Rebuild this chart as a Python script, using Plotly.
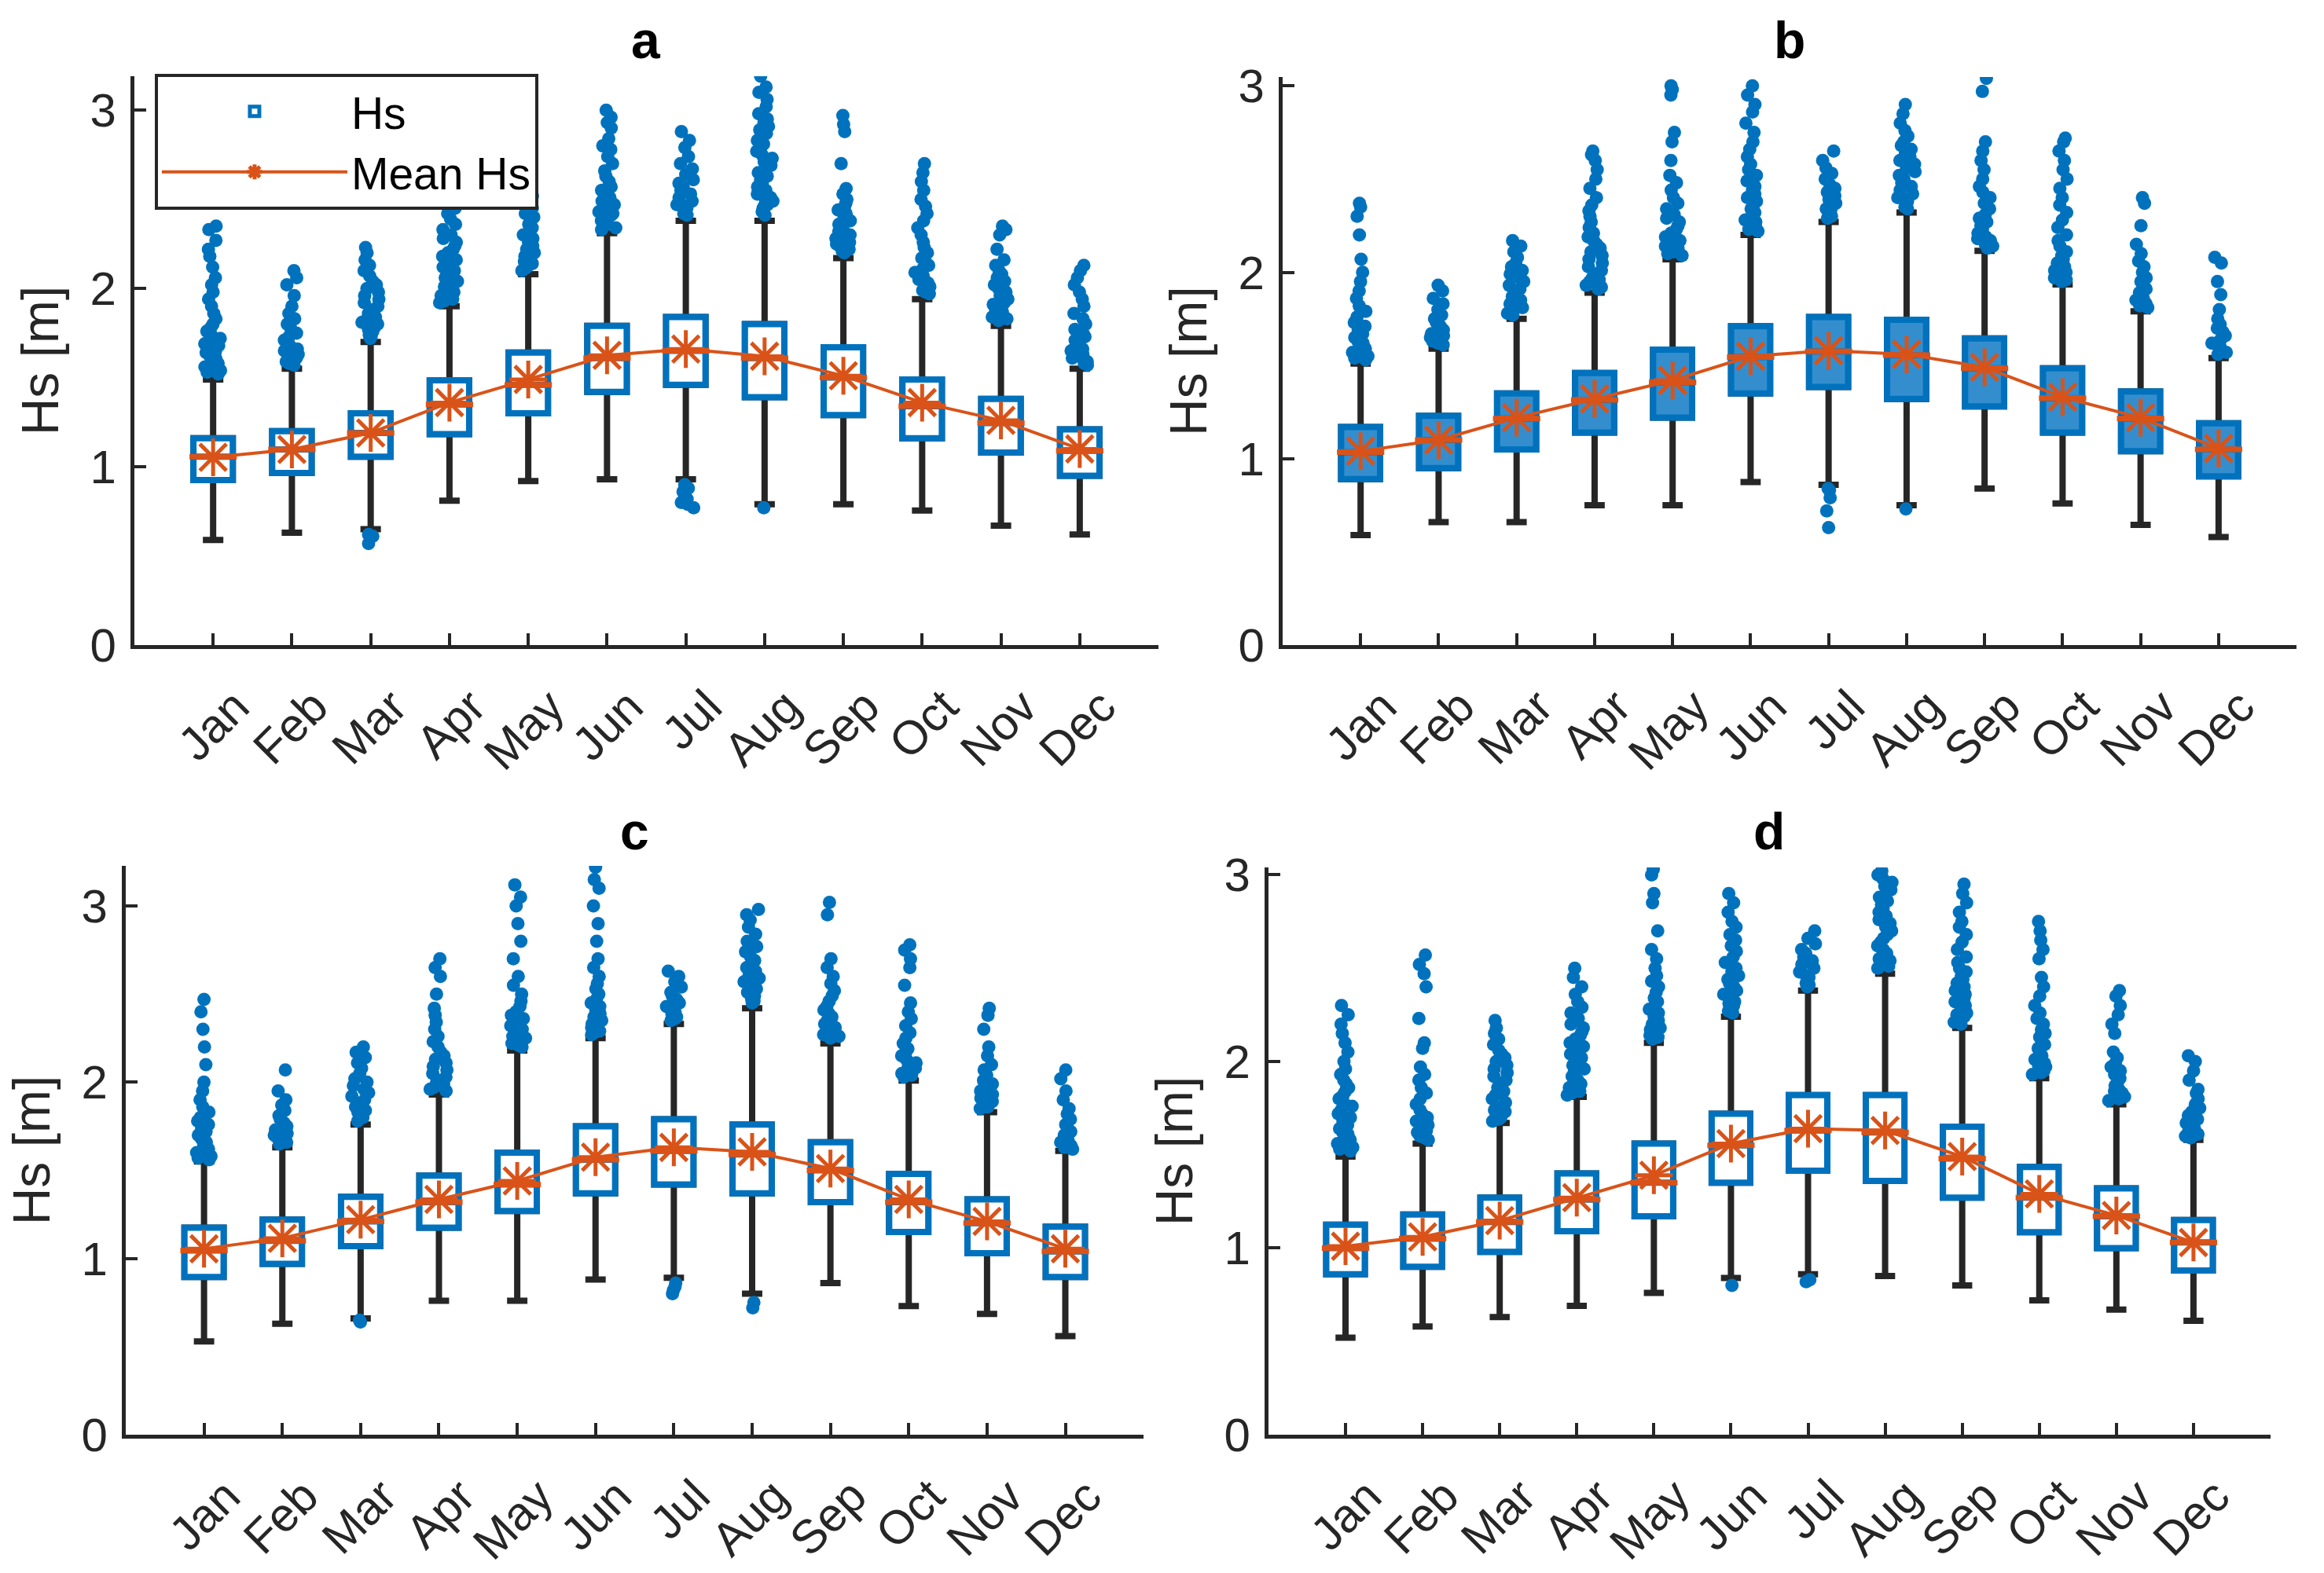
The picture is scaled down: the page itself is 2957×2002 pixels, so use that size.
import plotly.graph_objects as go

MONTHS = ["Jan", "Feb", "Mar", "Apr", "May", "Jun", "Jul", "Aug", "Sep", "Oct", "Nov", "Dec"]
Y_TICKS = [0, 1, 2, 3]
PANEL_TITLES = ["a", "b", "c", "d"]

# ---------------- panel a ----------------
A_Q1 = [0.925, 0.965, 1.057, 1.183, 1.30, 1.42, 1.46, 1.39, 1.29, 1.16, 1.08, 0.95]
A_MED = [1.057, 1.097, 1.19, 1.35, 1.46, 1.61, 1.65, 1.61, 1.50, 1.34, 1.245, 1.09]
A_Q3 = [1.16, 1.20, 1.30, 1.485, 1.64, 1.79, 1.84, 1.80, 1.67, 1.49, 1.38, 1.21]
A_LO = [0.59, 0.63, 0.65, 0.81, 0.92, 0.93, 0.93, 0.79, 0.79, 0.755, 0.67, 0.62]
A_HI = [1.49, 1.55, 1.70, 1.90, 2.08, 2.31, 2.38, 2.38, 2.17, 1.94, 1.79, 1.55]
A_MEAN = [1.053, 1.097, 1.19, 1.36, 1.49, 1.625, 1.66, 1.62, 1.51, 1.36, 1.26, 1.10]
A_OUT = [
    [1.52, 1.53, 1.54, 1.56, 1.57, 1.58, 1.6, 1.61, 1.62, 1.64, 1.65, 1.66, 1.68, 1.69, 1.7, 1.72, 1.74, 1.76, 1.78, 1.8, 1.83, 1.86, 1.9, 1.94, 1.98, 2.02, 2.06, 2.12, 2.18, 2.22, 2.27, 2.33, 2.35],
    [1.57, 1.58, 1.59, 1.61, 1.62, 1.63, 1.65, 1.66, 1.67, 1.69, 1.71, 1.73, 1.75, 1.78, 1.8, 1.83, 1.86, 1.9, 1.96, 2.02, 2.06, 2.1],
    [0.57, 0.61, 0.62, 1.72, 1.73, 1.74, 1.76, 1.77, 1.78, 1.8, 1.81, 1.82, 1.84, 1.86, 1.88, 1.9, 1.92, 1.94, 1.96, 1.98, 2.0, 2.02, 2.04, 2.07, 2.1, 2.13, 2.16, 2.2, 2.23],
    [1.92, 1.93, 1.94, 1.96, 1.97, 1.98, 2.0, 2.01, 2.02, 2.04, 2.06, 2.08, 2.1, 2.12, 2.14, 2.16, 2.18, 2.2, 2.22, 2.24, 2.26, 2.28, 2.3, 2.33, 2.36, 2.39, 2.42, 2.45],
    [2.1, 2.11, 2.12, 2.14, 2.15, 2.16, 2.18, 2.2, 2.22, 2.24, 2.26, 2.28, 2.3, 2.32, 2.34, 2.36, 2.38, 2.4, 2.42, 2.45, 2.48, 2.52],
    [2.33, 2.34, 2.35, 2.37, 2.38, 2.39, 2.41, 2.42, 2.43, 2.45, 2.47, 2.49, 2.51, 2.53, 2.55, 2.57, 2.6, 2.63, 2.66, 2.7, 2.74, 2.78, 2.8, 2.84, 2.9, 2.93, 2.96, 3.0],
    [0.77, 0.79, 0.8, 0.82, 0.84, 0.86, 0.88, 0.9, 2.41, 2.42, 2.43, 2.45, 2.46, 2.47, 2.49, 2.51, 2.53, 2.55, 2.57, 2.59, 2.61, 2.64, 2.67, 2.7, 2.74, 2.79, 2.83, 2.88],
    [0.77, 2.41, 2.42, 2.43, 2.45, 2.46, 2.47, 2.49, 2.5, 2.51, 2.53, 2.55, 2.57, 2.59, 2.61, 2.63, 2.65, 2.67, 2.69, 2.71, 2.73, 2.75, 2.77, 2.79, 2.81, 2.83, 2.85, 2.87, 2.89, 2.91, 2.93, 2.95, 2.98, 3.02, 3.06, 3.1, 3.13, 3.19],
    [2.2, 2.21, 2.22, 2.24, 2.25, 2.26, 2.28, 2.29, 2.3, 2.32, 2.34, 2.36, 2.38, 2.4, 2.42, 2.44, 2.46, 2.48, 2.5, 2.53, 2.56, 2.7, 2.88, 2.92, 2.97],
    [1.97, 1.98, 1.99, 2.01, 2.02, 2.03, 2.05, 2.07, 2.09, 2.11, 2.13, 2.15, 2.17, 2.2, 2.23, 2.26, 2.3, 2.34, 2.38, 2.42, 2.46, 2.5, 2.55, 2.6, 2.65, 2.7],
    [1.82, 1.83, 1.84, 1.86, 1.87, 1.88, 1.9, 1.91, 1.92, 1.94, 1.96, 1.98, 2.0, 2.02, 2.04, 2.06, 2.08, 2.1, 2.13, 2.16, 2.22, 2.3, 2.33, 2.35],
    [1.57, 1.58, 1.59, 1.61, 1.62, 1.63, 1.65, 1.66, 1.67, 1.69, 1.71, 1.73, 1.75, 1.77, 1.8, 1.83, 1.86, 1.9, 1.94, 1.98, 2.02, 2.06, 2.1, 2.13],
]

# ---------------- panel b ----------------
B_Q1 = [0.89, 0.95, 1.05, 1.14, 1.22, 1.35, 1.385, 1.32, 1.28, 1.14, 1.04, 0.905]
B_MED = [1.035, 1.10, 1.215, 1.315, 1.41, 1.545, 1.575, 1.555, 1.485, 1.325, 1.215, 1.05]
B_Q3 = [1.17, 1.23, 1.35, 1.46, 1.585, 1.71, 1.76, 1.745, 1.645, 1.485, 1.36, 1.19]
B_LO = [0.59, 0.66, 0.66, 0.75, 0.75, 0.875, 0.86, 0.75, 0.84, 0.76, 0.645, 0.58]
B_HI = [1.51, 1.59, 1.75, 1.89, 2.07, 2.2, 2.27, 2.32, 2.115, 1.935, 1.79, 1.54]
B_MEAN = [1.04, 1.10, 1.22, 1.32, 1.42, 1.55, 1.58, 1.56, 1.49, 1.33, 1.22, 1.055]
B_OUT = [
    [1.53, 1.54, 1.55, 1.57, 1.58, 1.59, 1.61, 1.62, 1.63, 1.65, 1.67, 1.69, 1.71, 1.73, 1.76, 1.79, 1.82, 1.86, 1.9, 1.95, 2.0, 2.07, 2.2, 2.3, 2.35, 2.37],
    [1.61, 1.62, 1.63, 1.65, 1.66, 1.67, 1.69, 1.71, 1.73, 1.75, 1.77, 1.8, 1.83, 1.86, 1.9, 1.93],
    [1.77, 1.78, 1.79, 1.81, 1.82, 1.83, 1.85, 1.87, 1.89, 1.91, 1.93, 1.95, 1.97, 1.99, 2.01, 2.03, 2.05, 2.08, 2.11, 2.14, 2.17],
    [1.91, 1.92, 1.93, 1.95, 1.96, 1.97, 1.99, 2.01, 2.03, 2.05, 2.07, 2.09, 2.11, 2.13, 2.15, 2.17, 2.19, 2.21, 2.24, 2.27, 2.3, 2.33, 2.36, 2.4, 2.45, 2.5, 2.55, 2.6, 2.63, 2.65],
    [2.09, 2.1, 2.11, 2.13, 2.14, 2.15, 2.17, 2.19, 2.21, 2.23, 2.25, 2.27, 2.29, 2.31, 2.34, 2.37, 2.4, 2.44, 2.48, 2.52, 2.6, 2.7, 2.75, 2.95, 2.98, 3.0],
    [2.22, 2.23, 2.24, 2.26, 2.27, 2.28, 2.3, 2.32, 2.34, 2.36, 2.38, 2.4, 2.42, 2.44, 2.46, 2.49, 2.52, 2.55, 2.58, 2.62, 2.66, 2.7, 2.75, 2.8, 2.86, 2.9, 2.95, 3.0],
    [0.63, 0.72, 0.79, 0.83, 0.84, 2.29, 2.3, 2.31, 2.33, 2.34, 2.35, 2.37, 2.39, 2.41, 2.43, 2.45, 2.47, 2.5, 2.53, 2.56, 2.6, 2.65],
    [0.73, 2.34, 2.35, 2.36, 2.38, 2.39, 2.4, 2.42, 2.44, 2.46, 2.48, 2.5, 2.52, 2.54, 2.56, 2.58, 2.6, 2.62, 2.64, 2.66, 2.68, 2.7, 2.73, 2.76, 2.8, 2.85, 2.9],
    [2.13, 2.14, 2.15, 2.17, 2.18, 2.19, 2.21, 2.23, 2.25, 2.27, 2.29, 2.31, 2.34, 2.37, 2.4, 2.43, 2.46, 2.5, 2.55, 2.6, 2.65, 2.7, 2.97, 3.04],
    [1.95, 1.96, 1.97, 1.99, 2.0, 2.01, 2.03, 2.05, 2.07, 2.09, 2.11, 2.14, 2.17, 2.2, 2.24, 2.28, 2.32, 2.36, 2.4, 2.45, 2.5, 2.55, 2.6, 2.65, 2.7, 2.72],
    [1.81, 1.82, 1.83, 1.85, 1.86, 1.87, 1.89, 1.91, 1.93, 1.95, 1.97, 2.0, 2.03, 2.06, 2.1, 2.15, 2.25, 2.37, 2.4],
    [1.56, 1.57, 1.58, 1.6, 1.61, 1.62, 1.64, 1.66, 1.68, 1.7, 1.72, 1.75, 1.8, 1.88, 1.95, 2.05, 2.08],
]

# ---------------- panel c ----------------
C_Q1 = [0.895, 0.97, 1.07, 1.175, 1.27, 1.37, 1.42, 1.37, 1.32, 1.15, 1.03, 0.895]
C_MED = [1.045, 1.10, 1.21, 1.32, 1.42, 1.56, 1.61, 1.59, 1.50, 1.32, 1.20, 1.04]
C_Q3 = [1.175, 1.22, 1.35, 1.47, 1.60, 1.75, 1.79, 1.76, 1.66, 1.48, 1.335, 1.18]
C_LO = [0.53, 0.63, 0.66, 0.76, 0.76, 0.88, 0.89, 0.80, 0.86, 0.73, 0.685, 0.56]
C_HI = [1.55, 1.63, 1.76, 1.93, 2.18, 2.25, 2.33, 2.42, 2.22, 2.01, 1.83, 1.61]
C_MEAN = [1.055, 1.115, 1.22, 1.335, 1.44, 1.575, 1.63, 1.605, 1.51, 1.335, 1.21, 1.055]
C_OUT = [
    [1.56, 1.57, 1.58, 1.6, 1.61, 1.62, 1.64, 1.66, 1.68, 1.7, 1.72, 1.74, 1.76, 1.78, 1.8, 1.83, 1.86, 1.9, 1.95, 2.0, 2.1, 2.2, 2.3, 2.4, 2.47],
    [1.65, 1.66, 1.67, 1.69, 1.7, 1.71, 1.73, 1.75, 1.77, 1.79, 1.81, 1.84, 1.87, 1.9, 1.95, 2.07],
    [0.64, 0.65, 1.78, 1.79, 1.8, 1.82, 1.83, 1.84, 1.86, 1.88, 1.9, 1.92, 1.94, 1.96, 1.98, 2.0, 2.02, 2.05, 2.08, 2.11, 2.14, 2.17, 2.2],
    [1.95, 1.96, 1.97, 1.99, 2.0, 2.01, 2.03, 2.05, 2.07, 2.09, 2.11, 2.13, 2.15, 2.17, 2.2, 2.23, 2.26, 2.3, 2.34, 2.38, 2.42, 2.5, 2.6, 2.65, 2.7],
    [2.2, 2.21, 2.22, 2.24, 2.25, 2.26, 2.28, 2.3, 2.32, 2.34, 2.36, 2.38, 2.4, 2.43, 2.46, 2.5, 2.55, 2.6, 2.7, 2.8, 2.9, 3.0, 3.05, 3.12],
    [2.27, 2.28, 2.29, 2.31, 2.32, 2.33, 2.35, 2.37, 2.39, 2.41, 2.43, 2.45, 2.47, 2.5, 2.53, 2.56, 2.6, 2.65, 2.7, 2.8, 2.9, 3.0, 3.1, 3.15, 3.22],
    [0.8, 0.82, 0.84, 0.86, 2.35, 2.36, 2.37, 2.39, 2.4, 2.41, 2.43, 2.45, 2.47, 2.49, 2.51, 2.54, 2.57, 2.6, 2.63],
    [0.72, 0.75, 2.45, 2.46, 2.47, 2.49, 2.5, 2.51, 2.53, 2.55, 2.57, 2.59, 2.61, 2.63, 2.65, 2.67, 2.69, 2.71, 2.74, 2.77, 2.8, 2.84, 2.88, 2.92, 2.95, 2.98],
    [2.25, 2.26, 2.27, 2.29, 2.3, 2.31, 2.33, 2.35, 2.37, 2.39, 2.41, 2.43, 2.46, 2.49, 2.52, 2.56, 2.6, 2.65, 2.7, 2.95, 3.02],
    [2.03, 2.04, 2.05, 2.07, 2.08, 2.09, 2.11, 2.13, 2.15, 2.17, 2.19, 2.22, 2.25, 2.28, 2.32, 2.36, 2.4, 2.45, 2.55, 2.65, 2.7, 2.75, 2.78],
    [1.85, 1.86, 1.87, 1.89, 1.9, 1.91, 1.93, 1.95, 1.97, 1.99, 2.01, 2.04, 2.07, 2.1, 2.15, 2.2, 2.3, 2.38, 2.42],
    [1.62, 1.63, 1.64, 1.66, 1.67, 1.68, 1.7, 1.72, 1.74, 1.76, 1.79, 1.82, 1.85, 1.9, 1.95, 2.02, 2.07],
]

# ---------------- panel d ----------------
D_Q1 = [0.86, 0.90, 0.98, 1.09, 1.17, 1.35, 1.415, 1.36, 1.27, 1.085, 1.0, 0.88]
D_MED = [1.0, 1.05, 1.14, 1.26, 1.35, 1.55, 1.63, 1.62, 1.48, 1.27, 1.17, 1.03]
D_Q3 = [1.125, 1.18, 1.27, 1.40, 1.56, 1.72, 1.82, 1.82, 1.65, 1.435, 1.32, 1.15]
D_LO = [0.52, 0.58, 0.63, 0.69, 0.76, 0.84, 0.86, 0.85, 0.80, 0.72, 0.67, 0.61]
D_HI = [1.49, 1.56, 1.67, 1.81, 2.1, 2.24, 2.38, 2.47, 2.18, 1.91, 1.77, 1.58]
D_MEAN = [1.01, 1.06, 1.147, 1.27, 1.39, 1.56, 1.64, 1.63, 1.49, 1.29, 1.175, 1.03]
D_OUT = [
    [1.52, 1.53, 1.54, 1.56, 1.57, 1.58, 1.6, 1.61, 1.62, 1.64, 1.66, 1.68, 1.7, 1.72, 1.74, 1.76, 1.78, 1.8, 1.82, 1.84, 1.86, 1.88, 1.9, 1.93, 1.96, 2.0, 2.05, 2.1, 2.15, 2.2, 2.25, 2.3],
    [1.58, 1.59, 1.6, 1.62, 1.63, 1.64, 1.66, 1.68, 1.7, 1.72, 1.74, 1.77, 1.8, 1.83, 1.86, 1.9, 1.93, 1.97, 2.07, 2.1, 2.23, 2.4, 2.47, 2.52, 2.57],
    [1.68, 1.69, 1.7, 1.72, 1.73, 1.74, 1.76, 1.78, 1.8, 1.82, 1.84, 1.86, 1.88, 1.9, 1.92, 1.94, 1.96, 1.98, 2.0, 2.02, 2.04, 2.06, 2.09, 2.12, 2.15, 2.18, 2.22],
    [1.82, 1.83, 1.84, 1.86, 1.87, 1.88, 1.9, 1.92, 1.94, 1.96, 1.98, 2.0, 2.02, 2.04, 2.06, 2.08, 2.1, 2.12, 2.14, 2.16, 2.18, 2.2, 2.23, 2.26, 2.29, 2.32, 2.36, 2.4, 2.45, 2.5],
    [2.12, 2.13, 2.14, 2.16, 2.17, 2.18, 2.2, 2.22, 2.24, 2.26, 2.28, 2.3, 2.32, 2.34, 2.37, 2.4, 2.43, 2.46, 2.5, 2.55, 2.6, 2.7, 2.85, 2.9, 3.0, 3.03],
    [0.8, 2.26, 2.27, 2.28, 2.3, 2.31, 2.32, 2.34, 2.36, 2.38, 2.4, 2.42, 2.44, 2.46, 2.48, 2.5, 2.53, 2.56, 2.59, 2.62, 2.65, 2.68, 2.72, 2.75, 2.8, 2.85, 2.9],
    [0.82, 0.83, 2.4, 2.41, 2.42, 2.44, 2.45, 2.46, 2.48, 2.5, 2.52, 2.54, 2.56, 2.58, 2.6, 2.63, 2.66, 2.7],
    [2.5, 2.51, 2.52, 2.54, 2.55, 2.56, 2.58, 2.6, 2.62, 2.64, 2.66, 2.68, 2.7, 2.72, 2.74, 2.76, 2.78, 2.8, 2.82, 2.84, 2.86, 2.88, 2.9, 2.92, 2.94, 2.96, 2.98, 3.0, 3.02],
    [2.2, 2.21, 2.22, 2.24, 2.25, 2.26, 2.28, 2.3, 2.32, 2.34, 2.36, 2.38, 2.4, 2.42, 2.44, 2.46, 2.48, 2.5, 2.53, 2.56, 2.6, 2.64, 2.68, 2.72, 2.75, 2.8, 2.85, 2.9, 2.95],
    [1.93, 1.94, 1.95, 1.97, 1.98, 1.99, 2.01, 2.03, 2.05, 2.07, 2.09, 2.11, 2.13, 2.15, 2.17, 2.2, 2.23, 2.26, 2.3, 2.35, 2.4, 2.45, 2.55, 2.6, 2.65, 2.7, 2.75],
    [1.79, 1.8, 1.81, 1.83, 1.84, 1.85, 1.87, 1.89, 1.91, 1.93, 1.95, 1.97, 1.99, 2.02, 2.05, 2.15, 2.2, 2.25, 2.3, 2.35, 2.38],
    [1.59, 1.6, 1.61, 1.63, 1.64, 1.65, 1.67, 1.69, 1.71, 1.73, 1.75, 1.77, 1.8, 1.83, 1.85, 1.9, 1.95, 2.0, 2.03],
]

# ---------------- styling ----------------
BLUE = "rgb(0,114,189)"
ORANGE = "rgb(217,83,25)"
DARK = "#262626"
FONT = "Liberation Sans, Arial, Helvetica, sans-serif"
TICK_FS = 60
LABEL_FS = 66
TITLE_FS = 66
LEGEND_FS = 57

panels = [
    dict(q1=A_Q1, med=A_MED, q3=A_Q3, lo=A_LO, hi=A_HI, mean=A_MEAN, out=A_OUT, fill="white", legend=True),
    dict(q1=B_Q1, med=B_MED, q3=B_Q3, lo=B_LO, hi=B_HI, mean=B_MEAN, out=B_OUT, fill="rgb(52,142,206)", legend=False),
    dict(q1=C_Q1, med=C_MED, q3=C_Q3, lo=C_LO, hi=C_HI, mean=C_MEAN, out=C_OUT, fill="white", legend=False),
    dict(q1=D_Q1, med=D_MED, q3=D_Q3, lo=D_LO, hi=D_HI, mean=D_MEAN, out=D_OUT, fill="white", legend=False),
]

# axis geometry (paper fractions)
X_DOMAINS = [[0.0578, 0.4985], [0.5519, 0.9882], [0.0541, 0.4921], [0.5458, 0.9770]]
Y_DOMAINS = [[0.5899, 0.9515], [0.5899, 0.9510], [0.0879, 0.4496], [0.0879, 0.4486]]
Y_RANGES = [[0, 3.19], [0, 3.047], [0, 3.228], [0, 3.04]]
TITLE_Y = [0.9745, 0.9745, 0.4715, 0.4715]

BOX_W = 0.5

fig = go.Figure()

for i, p in enumerate(panels):
    sfx = "" if i == 0 else str(i + 1)
    xa, ya = "x" + sfx, "y" + sfx

    # whiskers (black box drawn first, later covered by the blue box)
    fig.add_trace(go.Box(
        x=MONTHS, q1=p["q1"], median=p["med"], q3=p["q3"],
        lowerfence=p["lo"], upperfence=p["hi"],
        width=BOX_W, whiskerwidth=0.52, boxpoints=False,
        line=dict(color=DARK, width=8), fillcolor="white",
        showlegend=False, hoverinfo="skip", xaxis=xa, yaxis=ya))

    # blue box (no whiskers)
    fig.add_trace(go.Box(
        x=MONTHS, q1=p["q1"], median=p["med"], q3=p["q3"],
        width=BOX_W, whiskerwidth=0, boxpoints=False,
        line=dict(color=BLUE, width=8), fillcolor=p["fill"],
        name="Hs", showlegend=p["legend"], legendrank=1,
        hoverinfo="skip", xaxis=xa, yaxis=ya))

    # outliers (jittered by plotly, box itself hidden)
    ox = [m for m, vals in zip(MONTHS, p["out"]) for _ in vals]
    oy = [v for vals in p["out"] for v in vals]
    fig.add_trace(go.Box(
        x=ox, y=oy, width=BOX_W, boxpoints="all", jitter=0.5, pointpos=0,
        line=dict(width=0, color="rgba(0,0,0,0)"), fillcolor="rgba(0,0,0,0)",
        marker=dict(color=BLUE, size=17, line=dict(width=0)),
        showlegend=False, hoverinfo="skip", xaxis=xa, yaxis=ya))

    # medians (orange)
    fig.add_trace(go.Scatter(
        x=MONTHS, y=p["med"], mode="markers",
        marker=dict(symbol="line-ew", size=43, line=dict(color=ORANGE, width=7)),
        showlegend=False, hoverinfo="skip", xaxis=xa, yaxis=ya))

    # mean line
    fig.add_trace(go.Scatter(
        x=MONTHS, y=p["mean"], mode="lines+markers",
        line=dict(color=ORANGE, width=4),
        marker=dict(symbol="asterisk-open", size=40, color=ORANGE, line=dict(color=ORANGE, width=5)),
        name="Mean Hs", showlegend=p["legend"], legendrank=2,
        hoverinfo="skip", xaxis=xa, yaxis=ya))

layout = dict(
    width=2957, height=2002, autosize=False,
    margin=dict(l=0, r=0, t=0, b=0),
    paper_bgcolor="white", plot_bgcolor="white",
    boxmode="overlay",
    font=dict(family=FONT, size=TICK_FS, color=DARK),
    legend=dict(x=0.0666, y=0.953, xanchor="left", yanchor="top",
                bgcolor="white", bordercolor=DARK, borderwidth=4,
                font=dict(family=FONT, size=LEGEND_FS, color="black"),
                itemwidth=236, tracegroupgap=0, traceorder="normal"),
    annotations=[],
)

for i in range(4):
    sfx = "" if i == 0 else str(i + 1)
    layout["xaxis" + sfx] = dict(
        domain=X_DOMAINS[i], anchor="y" + sfx,
        type="category", categoryorder="array", categoryarray=MONTHS,
        range=[-1, 12], tickangle=-45,
        showline=True, linecolor=DARK, linewidth=5, mirror=False,
        ticks="inside", ticklen=15, tickwidth=4, tickcolor=DARK,
        showgrid=False, zeroline=False, automargin=False,
        tickfont=dict(family=FONT, size=TICK_FS, color=DARK),
        ticklabelstandoff=14, ticklabelshift=28,
    )
    layout["yaxis" + sfx] = dict(
        domain=Y_DOMAINS[i], anchor="x" + sfx, range=Y_RANGES[i],
        tickvals=Y_TICKS, ticktext=[str(t) for t in Y_TICKS],
        showline=True, linecolor=DARK, linewidth=5, mirror=False,
        ticks="inside", ticklen=15, tickwidth=4, tickcolor=DARK,
        showgrid=False, zeroline=False, automargin=False,
        tickfont=dict(family=FONT, size=TICK_FS, color=DARK),
        ticklabelstandoff=6,
        title=dict(text="Hs [m]", font=dict(family=FONT, size=LABEL_FS, color=DARK), standoff=20),
    )
    layout["annotations"].append(dict(
        text="<b>" + PANEL_TITLES[i] + "</b>", xref="paper", yref="paper",
        x=sum(X_DOMAINS[i]) / 2, y=TITLE_Y[i], xanchor="center", yanchor="middle",
        showarrow=False, font=dict(family=FONT, size=TITLE_FS, color="black")))

fig.update_layout(**layout)
fig.write_html("out.html")
